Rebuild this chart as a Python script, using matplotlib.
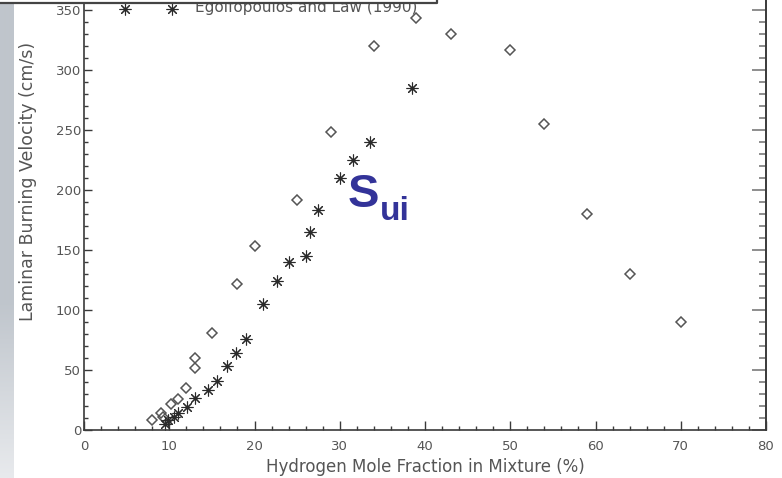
import numpy as np
import matplotlib
matplotlib.use('Agg')
import matplotlib.pyplot as plt
from matplotlib.lines import Line2D
from matplotlib.patches import Rectangle

# Points (H2 mole fraction %, burning velocity cm/s)
x_diamond = [8, 9, 9.3, 10.2, 11, 12, 13, 13, 15, 18, 20, 25, 29, 34, 39, 43, 50, 54, 59, 64, 70]
y_diamond = [8, 14, 11, 22, 26, 35, 52, 60, 81, 122, 153, 192, 248, 320, 343, 330, 317, 255, 180, 130, 90]

x_star = [9.5, 9.8, 10.5, 11, 12.1, 13, 14.6, 15.6, 16.8, 17.8, 19, 21, 22.6, 24.1, 26, 26.5,
          27.5, 30, 31.5, 33.5, 38.5]
y_star = [5, 8, 11, 14, 19, 27, 33, 41, 53, 64, 76, 105, 124, 140, 145, 165,
          183, 210, 225, 240, 285]

legend_label = 'Egolfopoulos and Law (1990)'
txt_col = '#555555'
ax_col = '#3a3a3a'

W, H = 782, 478
fig = plt.figure(figsize=(W / 100, H / 100), dpi=100)

# light grey strip on the left edge
strip = fig.add_axes([0, 0, 13 / W, 1])
grad = np.concatenate([np.zeros(300), np.linspace(0, 1, 178)])[:, None]
strip.imshow(grad, aspect='auto', cmap=matplotlib.colors.LinearSegmentedColormap.from_list(
    'g', ['#bfc5cc', '#e8eaed']), extent=[0, 1, 0, 1], origin='upper')
strip.axis('off')

x0, x1 = 84, 766
y_zero = 430
ymax = 380
ax = fig.add_axes([x0 / W, (H - y_zero) / H, (x1 - x0) / W, ymax * 1.2 / H])

ax.plot(x_diamond, y_diamond, linestyle='none', marker='D', markersize=5.2,
        markerfacecolor='none', markeredgecolor='#555555', markeredgewidth=1.1)
ax.plot(x_star, y_star, linestyle='none', marker=(8, 2, 0), markersize=8.5,
        color='#2a2a2a', markeredgewidth=0.8, label=legend_label)

ax.set_xlim(0, 80)
ax.set_ylim(0, ymax)
ax.set_xticks(np.arange(0, 81, 10))
ax.set_xticks(np.arange(0, 81, 2), minor=True)
ax.set_yticks(np.arange(0, 351, 50))
ax.set_yticks(np.arange(0, 381, 10), minor=True)

for s in ax.spines.values():
    s.set_color(ax_col)
    s.set_linewidth(1.2)

ax.tick_params(axis='x', which='major', direction='in', length=6.5, width=1, color=ax_col,
               labelsize=9.5, labelcolor=txt_col, pad=7, top=True)
ax.tick_params(axis='x', which='minor', direction='in', length=3.2, width=1, color=ax_col, top=True)
ax.tick_params(axis='y', which='major', direction='in', length=6, width=1, color=ax_col,
               labelsize=9.5, labelcolor=txt_col, pad=2)
ax.tick_params(axis='y', which='minor', direction='in', length=3, width=1, color=ax_col)

# right axis with its longer ticks
sec = ax.secondary_yaxis('right')
sec.set_yticks(np.arange(0, 381, 50))
sec.set_yticks(np.arange(0, 381, 10), minor=True)
sec.spines['right'].set_color(ax_col)
sec.spines['right'].set_linewidth(1.2)
sec.tick_params(which='major', direction='in', length=10, width=1.2, color='#7a7a7a', labelright=False)
sec.tick_params(which='minor', direction='in', length=5, width=1.2, color='#7a7a7a')

ax.set_xlabel('Hydrogen Mole Fraction in Mixture (%)', fontsize=12, color=txt_col, va='center')
ax.xaxis.set_label_coords(0.5, (y_zero - 467) / (ymax * 1.2))
ax.set_ylabel('Laminar Burning Velocity (cm/s)', fontsize=12.5, color=txt_col, va='center')
ax.yaxis.set_label_coords((28 - x0) / (x1 - x0), (y_zero - 181) / (ymax * 1.2))

fs_leg = 11
ax.legend(loc='center left', bbox_to_anchor=((120.4 - x0) / (x1 - x0), 352 / ymax),
          frameon=False, numpoints=2, handlelength=3.68, handletextpad=1.2, handleheight=-0.3,
          borderpad=0, borderaxespad=0, fontsize=fs_leg, labelcolor=txt_col)

# S_ui annotation
fig.text(348 / W, 1 - 207 / H, 'S', fontsize=34, fontweight='bold', color='#333399',
         family='Liberation Sans', ha='left', va='baseline')
fig.text(380 / W, 1 - 220 / H, 'ui', fontsize=24, fontweight='bold', color='#333399',
         family='Liberation Sans', ha='left', va='baseline')

# frame edge at the top of the cropped slide
fig.patches.append(Rectangle((0, 1 - 2.5 / H), 437 / W, 2.5 / H, transform=fig.transFigure,
                             facecolor='white', edgecolor='none', zorder=10))
fig.lines.append(Line2D([0, 437 / W, 437 / W], [1 - 3 / H, 1 - 3 / H, 1], transform=fig.transFigure,
                        color='#444444', linewidth=1.6, zorder=11))

fig.savefig('out.png', dpi=100)
